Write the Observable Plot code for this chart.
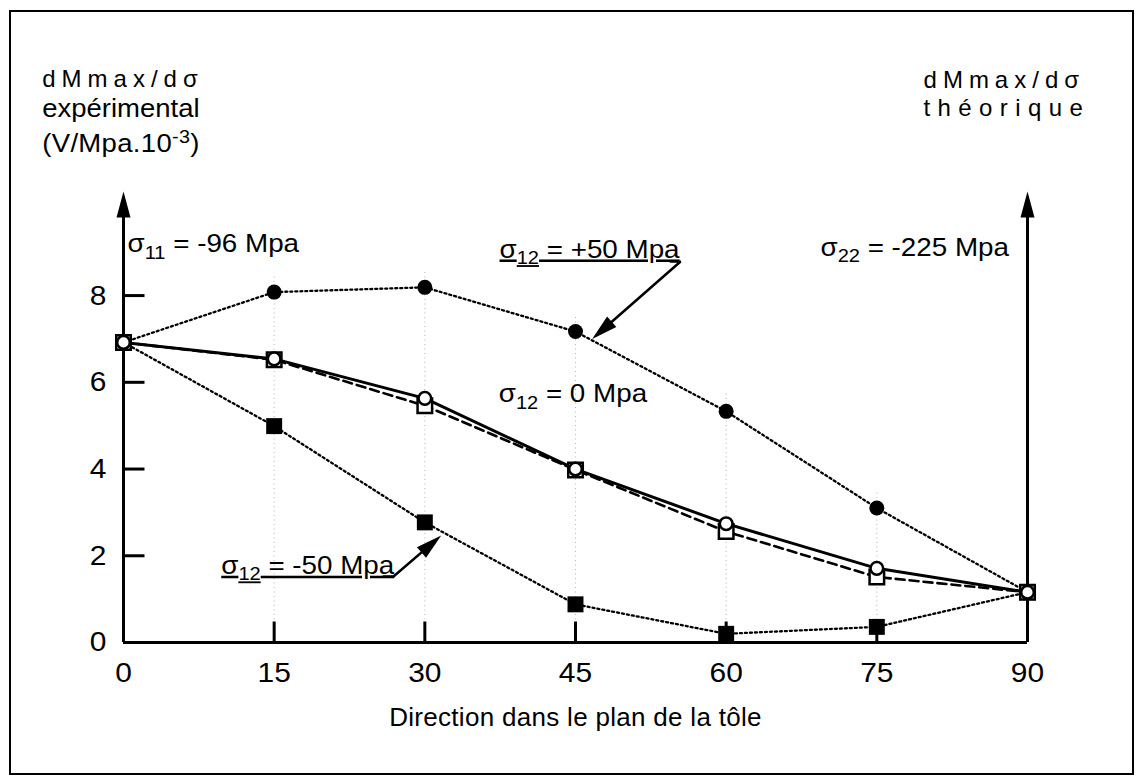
<!DOCTYPE html>
<html>
<head>
<meta charset="utf-8">
<script src="https://cdn.jsdelivr.net/npm/d3@7"></script>
<script src="https://cdn.jsdelivr.net/npm/@observablehq/plot@0.6"></script>
<style>
  html, body { margin: 0; padding: 0; background: #fff; }
  #wrap { position: relative; width: 1140px; height: 780px; overflow: hidden; }
  #border { position: absolute; left: 9px; top: 10px; width: 1121px; height: 761px; border: 2.5px solid #000; pointer-events: none; }
  svg { font-family: "Liberation Sans", Arial, Helvetica, sans-serif; }
</style>
</head>
<body>
<div id="wrap"><div id="chart"></div><div id="border"></div></div>
<script>
// ---- data ----
const angles = [0, 15, 30, 45, 60, 75, 90];
const sigPlus50      = [6.92, 8.08, 8.19, 7.17, 5.33, 3.10, 1.16]; // filled circles, dotted
const sigZeroCircles = [6.92, 6.54, 5.63, 4.00, 2.74, 1.71, 1.16]; // open circles, solid
const sigZeroSquares = [6.92, 6.52, 5.46, 3.98, 2.56, 1.51, 1.16]; // open squares, dashed
const sigMinus50     = [6.92, 4.99, 2.77, 0.88, 0.20, 0.36, 1.16]; // filled squares, dotted
const xTicks = [0, 15, 30, 45, 60, 75, 90];
const yTicks = [0, 2, 4, 6, 8];
const yTop = 10.4;

// annotations (data coordinates)
const notes = [
  {x: -8.09, y: 12.80, text: "dMmax/dσ", size: 24, spacing: 6, stretch: 1, anchor: "start"},
  {x: -8.09, y: 12.11, text: "expérimental", size: 25, spacing: 0, stretch: 1.1, anchor: "start"},
  {x: -8.09, y: 11.30, text: "(V/Mpa.10^{-3})", size: 25, spacing: 0.3, stretch: 1.1, anchor: "start"},
  {x: 79.65, y: 12.79, text: "dMmax/dσ", size: 24, spacing: 6, stretch: 1, anchor: "start"},
  {x: 79.65, y: 12.15, text: "théorique", size: 24, spacing: 7.4, stretch: 1, anchor: "start"},
  {x: 0.40, y: 9.00, text: "σ_{11} = -96 Mpa", size: 25.5, spacing: 0, stretch: 1.09, anchor: "start"},
  {x: 69.39, y: 8.92, text: "σ_{22} = -225 Mpa", size: 25.5, spacing: 0, stretch: 1.09, anchor: "start"},
  {x: 37.44, y: 8.877, text: "σ_{12} = +50 Mpa", size: 25.5, spacing: 0, stretch: 1.09, anchor: "start", underline: true},
  {x: 37.36, y: 5.54, text: "σ_{12} = 0 Mpa", size: 25.5, spacing: 0, stretch: 1.09, anchor: "start"},
  {x: 9.73, y: 1.584, text: "σ_{12} = -50 Mpa", size: 25.5, spacing: 0, stretch: 1.09, anchor: "start", underline: true},
  {x: 45, y: -1.914, text: "Direction dans le plan de la tôle", size: 26, spacing: 0.3, stretch: 1, anchor: "middle"}
];
// leader arrows: polyline points + head
const leaders = [
  {id: "p50", pts: [[54.46, 8.785], [55.46, 8.785], [47.11, 7.09]], tip: [46.66, 7.00], angle: 138.8},
  {id: "m50", pts: [[25.89, 1.522], [26.88, 1.522], [31.18, 2.377]], tip: [31.63, 2.467], angle: -40.7}
];

// ---- helpers ----
const rows = (vals) => angles.map((a, i) => ({angle: a, value: vals[i]}));
const series = [sigPlus50, sigZeroCircles, sigZeroSquares, sigMinus50];
const guides = angles.slice(1, -1).map(a => ({angle: a, top: d3.max(series, s => s[angles.indexOf(a)]) + 0.4}));

function headSymbol(angleDeg, len = 26, half = 7) {
  const a = angleDeg * Math.PI / 180, c = Math.cos(a), s = Math.sin(a);
  return {draw(ctx) {
    const bx = -len * c, by = -len * s, px = -s * half, py = c * half;
    ctx.moveTo(0, 0); ctx.lineTo(bx + px, by + py); ctx.lineTo(bx - px, by - py); ctx.closePath();
  }};
}
const tickRight = {draw(ctx) { ctx.moveTo(0, 0); ctx.lineTo(21, 0); }};
const tickUp = {draw(ctx) { ctx.moveTo(0, 0); ctx.lineTo(0, -21); }};

const leaderRows = leaders.flatMap(l => l.pts.map(p => ({id: l.id, x: p[0], y: p[1]})));

const marks = [
  // faint vertical guides
  Plot.ruleX(guides, {x: "angle", y1: 0, y2: "top", stroke: "#b4b4b4", strokeWidth: 1, strokeDasharray: "1,3.5"}),
  // axes
  Plot.ruleY([0], {x1: 0, x2: 90, stroke: "#000", strokeWidth: 3}),
  Plot.ruleX([0, 90], {y1: 0, y2: yTop - 0.25, stroke: "#000", strokeWidth: 3}),
  Plot.dot([0, 90], {x: d => d, y: yTop, symbol: headSymbol(-90, 26, 7), fill: "#000", stroke: "none"}),
  Plot.dot(yTicks.filter(t => t > 0), {x: 0, y: d => d, symbol: tickRight, fill: "none", stroke: "#000", strokeWidth: 3}),
  Plot.dot(xTicks.filter(t => t > 0 && t < 90), {x: d => d, y: 0, symbol: tickUp, fill: "none", stroke: "#000", strokeWidth: 3}),
  Plot.axisY(yTicks, {tickSize: 0, tickPadding: 17, fontSize: 28, label: null}),
  Plot.axisX(xTicks, {tickSize: 0, tickPadding: 20, fontSize: 28, label: null}),
  // lines
  Plot.line(rows(sigPlus50), {x: "angle", y: "value", stroke: "#000", strokeWidth: 2.3, strokeDasharray: "2,3"}),
  Plot.line(rows(sigMinus50), {x: "angle", y: "value", stroke: "#000", strokeWidth: 2.3, strokeDasharray: "2,3"}),
  Plot.line(rows(sigZeroSquares), {x: "angle", y: "value", stroke: "#000", strokeWidth: 2.6, strokeDasharray: "9,5"}),
  Plot.line(rows(sigZeroCircles), {x: "angle", y: "value", stroke: "#000", strokeWidth: 3}),
  // markers
  Plot.dot(rows(sigMinus50), {x: "angle", y: "value", symbol: "square", r: 9, fill: "#000"}),
  Plot.dot(rows(sigZeroSquares), {x: "angle", y: "value", symbol: "square", r: 8.2, fill: "#fff", stroke: "#000", strokeWidth: 2.5}),
  Plot.dot(rows(sigPlus50), {x: "angle", y: "value", symbol: "circle", r: 7.5, fill: "#000"}),
  Plot.dot(rows(sigZeroCircles), {x: "angle", y: "value", symbol: "circle", r: 6.3, fill: "#fff", stroke: "#000", strokeWidth: 2.5}),
  // leaders
  Plot.line(leaderRows, {x: "x", y: "y", z: "id", stroke: "#000", strokeWidth: 2.5, strokeLinejoin: "miter"}),
  ...leaders.map(l => Plot.dot([l], {x: d => d.tip[0], y: d => d.tip[1], symbol: headSymbol(l.angle, 26, 7), fill: "#000", stroke: "none"})),
  // annotation text
  Plot.text(notes.filter(d => d.anchor === "start"), {x: "x", y: "y", text: "text", fontSize: "size", textAnchor: "start", lineAnchor: "bottom", fill: "#000"}),
  Plot.text(notes.filter(d => d.anchor === "middle"), {x: "x", y: "y", text: "text", fontSize: "size", textAnchor: "middle", lineAnchor: "bottom", fill: "#000"})
];

const plot = Plot.plot({
  width: 1140,
  height: 780,
  marginLeft: 123,
  marginRight: 113,
  marginTop: 191,
  marginBottom: 138,
  x: {domain: [0, 90]},
  y: {domain: [0, yTop]},
  style: {fontFamily: "'Liberation Sans', Arial, Helvetica, sans-serif", background: "#fff", color: "#000", overflow: "visible"},
  marks
});
document.getElementById("chart").append(plot);

// ---- text post-processing: letter spacing, stretch, underline, sub/superscripts ----
const NS = "http://www.w3.org/2000/svg";
const noteMap = new Map(notes.map(n => [n.text, n]));
const tickLabels = new Set([...xTicks, ...yTicks].map(String));
function stretchText(t, s) {
  if (s === 1) return;
  const tr = t.getAttribute("transform") || "";
  t.setAttribute("transform", `${tr} scale(${s},1)`);
}
for (const t of plot.querySelectorAll("text")) {
  const content = t.textContent;
  if (tickLabels.has(content)) { stretchText(t, 1.07); continue; }
  const n = noteMap.get(content);
  if (!n) continue;
  if (n.spacing) t.style.letterSpacing = n.spacing + "px";
  if (n.underline) t.setAttribute("text-decoration", "underline");
  stretchText(t, n.stretch);
  if (/[_^]\{/.test(n.text)) {
    const fs = n.size;
    t.textContent = "";
    let shift = 0;
    for (const p of n.text.split(/([_^]\{[^}]*\})/)) {
      if (!p) continue;
      const ts = document.createElementNS(NS, "tspan");
      let target = 0;
      if (p[0] === "_" || p[0] === "^") {
        ts.textContent = p.slice(2, -1);
        ts.setAttribute("font-size", (fs * 0.72).toFixed(1));
        target = p[0] === "_" ? fs * 0.26 : -fs * 0.36;
      } else {
        ts.textContent = p;
      }
      ts.setAttribute("dy", (target - shift).toFixed(1));
      shift = target;
      t.appendChild(ts);
    }
  }
}
</script>
</body>
</html>
